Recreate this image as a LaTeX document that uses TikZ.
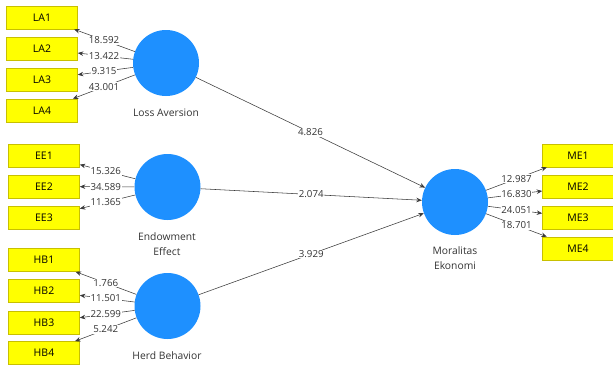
\documentclass[tikz,border=0pt]{standalone}
\usepackage{fontspec}
\setmainfont{Open Sans}
\usetikzlibrary{arrows.meta,calc}
\definecolor{lvblue}{HTML}{1E90FF}
\definecolor{boxyellow}{HTML}{FFFF00}
\definecolor{boxedge}{HTML}{C8C000}
\definecolor{linegray}{HTML}{3A3A3A}
\definecolor{txtgray}{HTML}{333333}
\tikzset{
  ind/.style={draw=boxedge,fill=boxyellow,line width=0.6pt,minimum width=71pt,minimum height=23pt,inner sep=0pt,font=\fontsize{10.5}{12}\selectfont,text=black},
  latent/.style={circle,fill=lvblue,minimum size=66pt,inner sep=0pt},
  lvlabel/.style={font=\fontsize{10.3}{15}\selectfont,text=txtgray,align=center},
  conn/.style={draw=linegray,line width=0.55pt,-{Stealth[length=5.5pt,width=4.5pt]}},
  wt/.style={fill=white,inner sep=0.8pt,font=\fontsize{9.7}{11}\selectfont,text=txtgray}
}
\begin{document}
\begin{tikzpicture}[x=1pt,y=-1pt]
\useasboundingbox (0,0) rectangle (613,370);
% latent variables
\node[latent] (LA) at (166,63) {};
\node[latent] (EE) at (167.5,187) {};
\node[latent] (HB) at (167.5,306) {};
\node[latent] (ME) at (455,202) {};
\node[lvlabel] (LAt) at (166,113) {Loss Aversion};
\node[lvlabel] (EEt) at (167,244) {Endowment\\Effect};
\node[lvlabel] (HBt) at (167,356) {Herd Behavior};
\node[lvlabel] (MEt) at (455,258) {Moralitas\\Ekonomi};
% indicators
\node[ind] (LA1) at (42,17.5) {LA1};
\node[ind] (LA2) at (42,49) {LA2};
\node[ind] (LA3) at (42,79.5) {LA3};
\node[ind] (LA4) at (42,110.5) {LA4};
\node[ind] (EE1) at (44,155.5) {EE1};
\node[ind] (EE2) at (44,186.5) {EE2};
\node[ind] (EE3) at (44,217.5) {EE3};
\node[ind] (HB1) at (44,260) {HB1};
\node[ind] (HB2) at (44,291) {HB2};
\node[ind] (HB3) at (44,322.5) {HB3};
\node[ind] (HB4) at (44,353) {HB4};
\node[ind] (ME1) at (578,155.5) {ME1};
\node[ind] (ME2) at (578,186.5) {ME2};
\node[ind] (ME3) at (578,218) {ME3};
\node[ind] (ME4) at (578,248.5) {ME4};
% connectors with labels
\foreach \a/\b/\w in {LA/LA1/18.592,LA/LA2/13.422,LA/LA3/9.315,LA/LA4/43.001,
  EE/EE1/15.326,EE/EE2/34.589,EE/EE3/11.365,
  HB/HB1/1.766,HB/HB2/11.501,HB/HB3/22.599,HB/HB4/5.242,
  ME/ME1/12.987,ME/ME2/16.830,ME/ME3/24.051,ME/ME4/18.701,
  LA/ME/4.826,EE/ME/2.074,HB/ME/3.929}{
  \draw[conn] (\a) -- (\b);
  \node[wt] (w-\a-\b) at ($(\a)!0.5!(\b)$) {\w};
}
\end{tikzpicture}
\end{document}
